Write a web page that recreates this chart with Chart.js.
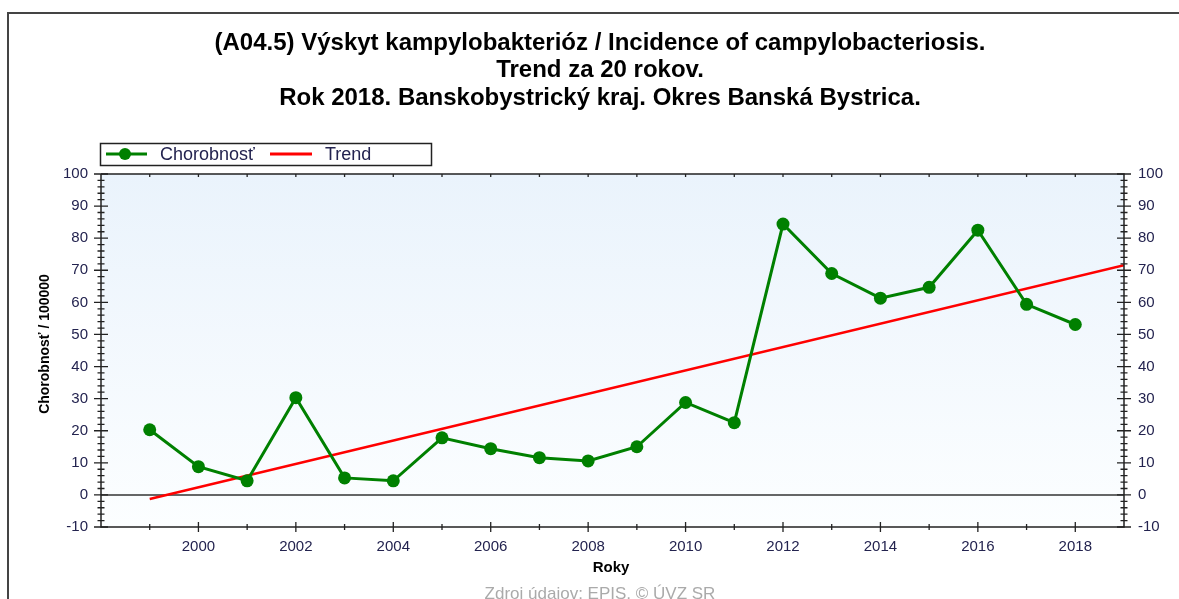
<!DOCTYPE html>
<html>
<head>
<meta charset="utf-8">
<script src="https://cdn.jsdelivr.net/npm/chart.js@4.4.1/dist/chart.umd.min.js"></script>
<style>
html,body{margin:0;padding:0;background:#fff;}
#wrap{width:1179px;height:599px;position:relative;}
</style>
</head>
<body>
<div id="wrap"><canvas id="c"></canvas></div>
<script>
const years = [1999,2000,2001,2002,2003,2004,2005,2006,2007,2008,2009,2010,2011,2012,2013,2014,2015,2016,2017,2018];
const incidence = [20.3,8.8,4.4,30.3,5.3,4.4,17.8,14.4,11.6,10.6,15.0,28.8,22.5,84.4,69.0,61.3,64.7,82.5,59.4,53.1];
const trendYears = [1999,2019];
const trendValues = [-1.3,71.6];
const yTicks = [-10,0,10,20,30,40,50,60,70,80,90,100];
const titleLines = [
  "(A04.5) Výskyt kampylobakterióz / Incidence of campylobacteriosis.",
  "Trend za 20 rokov.",
  "Rok 2018. Banskobystrický kraj. Okres Banská Bystrica."
];
const seriesNames = ["Chorobnosť","Trend"];
const xTitle = "Roky";
const yTitle = "Chorobnosť / 100000";
const footer = "Zdroj údajov: EPIS, © ÚVZ SR";

const FONT = "'Liberation Sans', Arial, sans-serif";
const TICKCOL = '#23234f';

const decorPlugin = {
  id: 'decor',
  beforeDraw(chart) {
    const {ctx, chartArea: a} = chart;
    ctx.save();
    const g = ctx.createLinearGradient(0, a.top, 0, a.bottom);
    g.addColorStop(0, '#eaf3fc');
    g.addColorStop(1, '#fcfeff');
    ctx.fillStyle = g;
    ctx.fillRect(a.left, a.top, a.right - a.left, a.bottom - a.top);
    const y0 = chart.scales.y.getPixelForValue(0);
    ctx.strokeStyle = '#333';
    ctx.lineWidth = 1.5;
    ctx.beginPath(); ctx.moveTo(a.left, y0); ctx.lineTo(a.right, y0); ctx.stroke();
    ctx.restore();
  },
  afterDraw(chart) {
    const {ctx, chartArea: a} = chart;
    const xs = chart.scales.x, ys = chart.scales.y;
    ctx.save();
    ctx.strokeStyle = '#444';
    ctx.lineWidth = 2;
    ctx.beginPath(); ctx.moveTo(8, 599); ctx.lineTo(8, 13); ctx.lineTo(1179, 13); ctx.stroke();
    ctx.strokeStyle = '#222';
    ctx.lineWidth = 1.5;
    ctx.beginPath();
    ctx.moveTo(a.left, a.top); ctx.lineTo(a.left, a.bottom); ctx.lineTo(a.right, a.bottom); ctx.lineTo(a.right, a.top); ctx.lineTo(a.left, a.top);
    ctx.stroke();
    ctx.lineWidth = 1.3;
    ctx.beginPath();
    for (let v = -10; v <= 100; v += 2) {
      const y = ys.getPixelForValue(v);
      const len = (v % 10 === 0) ? 7 : 3.5;
      ctx.moveTo(a.left - len, y); ctx.lineTo(a.left + len, y);
      ctx.moveTo(a.right - len, y); ctx.lineTo(a.right + len, y);
    }
    for (let yr = 1999; yr <= 2018; yr++) {
      const x = xs.getPixelForValue(yr);
      const len = (yr % 2 === 0) ? 5 : 3;
      ctx.moveTo(x, a.bottom - len); ctx.lineTo(x, a.bottom + len);
      ctx.moveTo(x, a.top); ctx.lineTo(x, a.top + 3);
    }
    ctx.stroke();
    ctx.fillStyle = '#000';
    ctx.textAlign = 'center';
    ctx.textBaseline = 'middle';
    ctx.font = 'bold 24px ' + FONT;
    titleLines.forEach((t, i) => ctx.fillText(t, 600, 43 + i * 27.5));
    ctx.font = 'bold 15px ' + FONT;
    ctx.fillText(xTitle, 611, 568);
    ctx.save();
    ctx.translate(45, 344);
    ctx.rotate(-Math.PI / 2);
    ctx.font = 'bold 14px ' + FONT;
    ctx.fillText(yTitle, 0, 0);
    ctx.restore();
    ctx.fillStyle = '#aaaaaa';
    ctx.font = '17px ' + FONT;
    ctx.fillText(footer, 600, 594);
    ctx.strokeStyle = '#222';
    ctx.lineWidth = 1.5;
    ctx.strokeRect(100.5, 143.5, 331, 22);
    const ds = chart.data.datasets;
    ctx.lineWidth = 3;
    ctx.strokeStyle = ds[0].borderColor;
    ctx.beginPath(); ctx.moveTo(106, 154); ctx.lineTo(147, 154); ctx.stroke();
    ctx.fillStyle = ds[0].backgroundColor;
    ctx.beginPath(); ctx.arc(125, 154, 6, 0, Math.PI * 2); ctx.fill();
    ctx.strokeStyle = ds[1].borderColor;
    ctx.beginPath(); ctx.moveTo(270, 154); ctx.lineTo(312, 154); ctx.stroke();
    ctx.fillStyle = TICKCOL;
    ctx.textAlign = 'left';
    ctx.font = '18px ' + FONT;
    ctx.fillText(ds[0].label, 160, 155);
    ctx.fillText(ds[1].label, 325, 155);
    ctx.restore();
  }
};

const chart = new Chart(document.getElementById('c'), {
  type: 'line',
  data: {
    datasets: [
      {
        label: seriesNames[0],
        data: years.map((y, i) => ({x: y, y: incidence[i]})),
        borderColor: '#008000',
        backgroundColor: '#008000',
        borderWidth: 3,
        pointRadius: 6.5,
        pointHoverRadius: 6.5,
        pointBackgroundColor: '#008000',
        pointBorderWidth: 0,
        tension: 0
      },
      {
        label: seriesNames[1],
        data: trendYears.map((y, i) => ({x: y, y: trendValues[i]})),
        borderColor: '#ff0000',
        backgroundColor: '#ff0000',
        borderWidth: 2.5,
        pointRadius: 0,
        tension: 0
      }
    ]
  },
  options: {
    responsive: true,
    maintainAspectRatio: false,
    animation: false,
    events: [],
    layout: {padding: {top: 174, left: 0, right: 0, bottom: 0}},
    plugins: {legend: {display: false}, title: {display: false}, tooltip: {enabled: false}},
    scales: {
      x: {
        type: 'linear', position: 'bottom', min: 1998, max: 2019,
        afterFit(s) { s.height = 72; },
        grid: {display: false, drawTicks: false},
        border: {display: false},
        ticks: {
          stepSize: 1, autoSkip: false, maxRotation: 0, padding: 11,
          color: TICKCOL, font: {family: FONT, size: 15},
          callback: (v) => (v % 2 === 0 && v >= 2000 && v <= 2018) ? String(v) : ''
        }
      },
      y: {
        type: 'linear', position: 'left', min: -10, max: 100,
        afterFit(s) { s.width = 101; },
        afterBuildTicks(s) { s.ticks = yTicks.map(v => ({value: v})); },
        grid: {display: false, drawTicks: false},
        border: {display: false},
        ticks: {padding: 13, color: TICKCOL, font: {family: FONT, size: 15}}
      },
      y2: {
        type: 'linear', position: 'right', min: -10, max: 100,
        afterFit(s) { s.width = 55; },
        afterBuildTicks(s) { s.ticks = yTicks.map(v => ({value: v})); },
        grid: {display: false, drawTicks: false},
        border: {display: false},
        ticks: {padding: 14, color: TICKCOL, font: {family: FONT, size: 15}}
      }
    }
  },
  plugins: [decorPlugin]
});
</script>
</body>
</html>
